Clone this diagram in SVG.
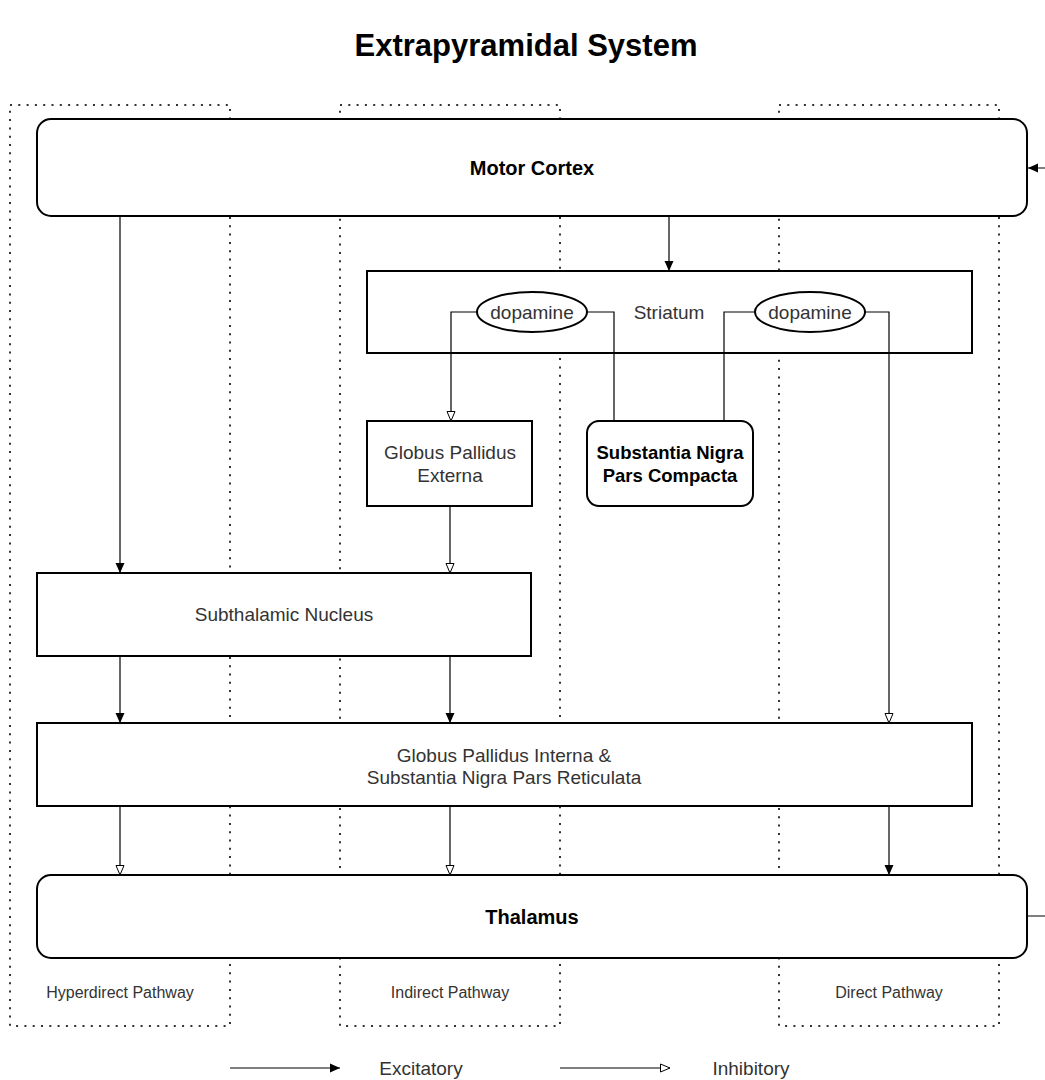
<svg xmlns="http://www.w3.org/2000/svg" width="1045" height="1080" viewBox="0 0 1045 1080">
<style>
.bg{fill:#fff}
.pw{fill:none;stroke:#333;stroke-width:2;stroke-dasharray:2 6.3}
.box{fill:#fff;stroke:#000;stroke-width:2}
.t{font-family:"Liberation Sans",Arial,sans-serif;font-size:19px;fill:#333;text-anchor:middle}
.b{font-family:"Liberation Sans",Arial,sans-serif;font-weight:bold;fill:#000;text-anchor:middle}
.lbl{font-family:"Liberation Sans",Arial,sans-serif;font-size:16px;fill:#333;text-anchor:middle}
.c{fill:none;stroke:#000;stroke-width:1.2}
.exc{marker-end:url(#exc)}
.inh{marker-end:url(#inh)}
</style>
<defs>
<marker id="exc" markerUnits="userSpaceOnUse" markerWidth="12" markerHeight="12" viewBox="0 0 12 12" refX="11" refY="6" orient="auto">
<path d="M1,1.5 L11,6 L1,10.5 z" fill="#000"/>
</marker>
<marker id="inh" markerUnits="userSpaceOnUse" markerWidth="12" markerHeight="12" viewBox="0 0 12 12" refX="11" refY="6" orient="auto">
<path d="M1.5,2 L11,6 L1.5,10 z" fill="#fff" stroke="#000" stroke-width="1"/>
</marker>
</defs>
<rect class="bg" x="0" y="0" width="1045" height="1080"/>
<text class="b" x="526" y="56" font-size="31">Extrapyramidal System</text>

<g id="hyperdirect-pathway">
<rect class="pw" x="10" y="105" width="220" height="921"/>
<text class="lbl" x="120" y="998">Hyperdirect Pathway</text>
</g>
<g id="indirect-pathway">
<rect class="pw" x="340" y="105" width="220" height="921"/>
<text class="lbl" x="450" y="998">Indirect Pathway</text>
</g>
<g id="direct-pathway">
<rect class="pw" x="779" y="105" width="220" height="921"/>
<text class="lbl" x="889" y="998">Direct Pathway</text>
</g>

<g id="motor-cortex">
<rect class="box" x="37" y="119" width="990" height="97" rx="14"/>
<text class="b" x="532" y="175" font-size="20">Motor Cortex</text>
</g>
<g id="striatum">
<rect class="box" x="367" y="271" width="605" height="82"/>
<text class="t" x="669" y="319">Striatum</text>
</g>
<g id="dopamine-left">
<ellipse class="box" cx="532" cy="312" rx="55" ry="20"/>
<text class="t" x="532" y="319">dopamine</text>
</g>
<g id="dopamine-right">
<ellipse class="box" cx="810" cy="312" rx="55" ry="20"/>
<text class="t" x="810" y="319">dopamine</text>
</g>
<g id="globus-pallidus-externa">
<rect class="box" x="367" y="421" width="165" height="85"/>
<text class="t" x="450" y="459">Globus Pallidus</text>
<text class="t" x="450" y="482">Externa</text>
</g>
<g id="substantia-nigra-pars-compacta">
<rect class="box" x="587" y="421" width="166" height="85" rx="12"/>
<text class="b" x="670" y="459" font-size="18.5">Substantia Nigra</text>
<text class="b" x="670" y="482" font-size="18.5">Pars Compacta</text>
</g>
<g id="subthalamic-nucleus">
<rect class="box" x="37" y="573" width="494" height="83"/>
<text class="t" x="284" y="621">Subthalamic Nucleus</text>
</g>
<g id="globus-pallidus-interna">
<rect class="box" x="37" y="723" width="935" height="83"/>
<text class="t" x="504" y="762">Globus Pallidus Interna &amp;</text>
<text class="t" x="504" y="784">Substantia Nigra Pars Reticulata</text>
</g>
<g id="thalamus">
<rect class="box" x="37" y="875" width="990" height="83" rx="14"/>
<text class="b" x="532" y="924" font-size="20">Thalamus</text>
</g>

<g id="connectors">
<path class="c exc" d="M120,216 V573"/>
<path class="c exc" d="M669,216 V271"/>
<path class="c inh" d="M477,312 H451 V421"/>
<path class="c" d="M587,312 H614 V421"/>
<path class="c" d="M755,312 H724 V421"/>
<path class="c inh" d="M865,312 H889 V723"/>
<path class="c inh" d="M450,506 V573"/>
<path class="c exc" d="M120,656 V723"/>
<path class="c exc" d="M450,656 V723"/>
<path class="c inh" d="M120,806 V875"/>
<path class="c inh" d="M450,806 V875"/>
<path class="c exc" d="M889,806 V875"/>
<path class="c exc" d="M1027,916 H1070 V168 H1028"/>
</g>

<g id="legend">
<path class="c exc" d="M230,1068 H340"/>
<text class="t" x="421" y="1075">Excitatory</text>
<path class="c inh" d="M560,1068 H670"/>
<text class="t" x="751" y="1075">Inhibitory</text>
</g>
</svg>
